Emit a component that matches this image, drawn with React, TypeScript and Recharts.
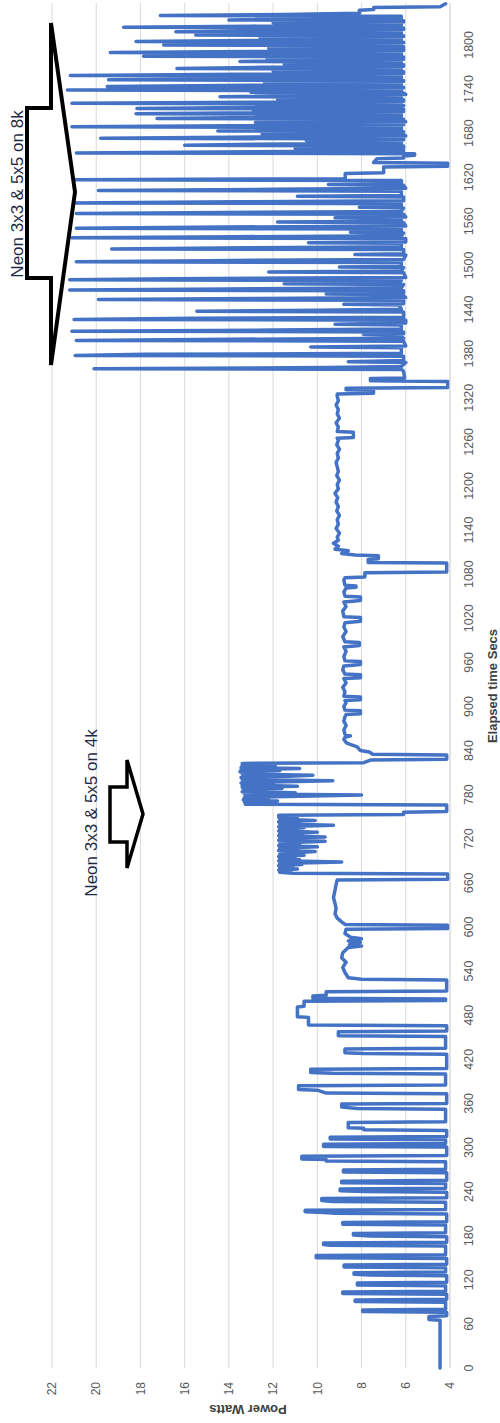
import React from 'react';
import { LineChart, Line, XAxis, YAxis, CartesianGrid } from 'recharts';

const timeTicks = [0, 60, 120, 180, 240, 300, 360, 420, 480, 540, 600, 660, 720, 780, 840, 900, 960, 1020, 1080, 1140, 1200, 1260, 1320, 1380, 1440, 1500, 1560, 1620, 1680, 1740, 1800];
const wattTicks = [4, 6, 8, 10, 12, 14, 16, 18, 20, 22];

const idleStart: [number, number][] = [
  [0, 4.45], [65, 4.45], [66, 4.95], [70, 4.95], [71, 4.15],
];

const burstsEarly: [number, number][] = [
  [76, 4.15], [77, 7.95], [79, 7.95], [80, 4.2],
  [89.5, 4.2], [90.5, 8.29], [92.5, 8.29], [93.5, 4.15],
  [100.5, 4.15], [101.5, 8.85], [103.5, 8.85], [104.5, 4.2],
  [112, 4.2], [113, 8.19], [115.5, 8.19], [116.5, 4.15],
  [125.5, 4.15], [126.5, 7.6], [127.5, 8.34], [129.5, 8.34], [130.5, 4.2],
  [136.5, 4.2], [137.5, 8.79], [140, 8.79], [141, 4.15],
  [149, 4.15], [150, 10.05], [153, 10.05], [154, 4.2],
  [166, 4.2], [167, 9.4], [168, 9.72], [170, 9.72], [171, 4.15],
  [178.5, 4.15], [179.5, 7.6], [181, 8.37], [183, 8.37], [184, 4.2],
  [194.5, 4.2], [195.5, 8.85], [198, 8.85], [199, 4.15],
  [209.5, 4.15], [210.5, 9.2], [211.5, 9.7], [212.5, 10.55], [214.5, 10.55], [215.5, 4.2],
  [225.5, 4.2], [226.5, 9.3], [228, 9.8], [230.5, 9.8], [231.5, 4.15],
  [239, 4.15], [240, 7.85], [241, 8.97], [243.5, 8.97], [244.5, 4.2],
  [251, 4.2], [252, 8.9], [254, 8.9], [254.5, 7.5], [255.5, 4.15],
  [265.5, 4.15], [266.5, 8.82], [269.5, 8.82], [270.5, 4.2],
  [280.5, 4.2], [281.5, 9.6], [283.5, 9.6], [284.5, 10.7], [288, 10.7], [289, 4.15],
  [300.5, 4.15], [301.5, 9.72], [304.5, 9.72], [305.5, 4.2],
  [310.5, 4.2], [311.5, 9.42], [314, 9.42], [315, 4.15],
];

const burstsLate: [number, number][] = [
  [323, 4.15], [324, 7.9], [326, 7.9], [327, 8.6], [334, 8.6], [335, 4.2],
  [352, 4.2], [353, 8.2], [355, 8.9], [359, 8.9], [360, 4.15],
  [373, 4.15], [374, 9.6], [378, 10.0], [379, 10.85], [384, 10.85], [385, 4.2],
  [400, 4.2], [401, 9.3], [402, 10.3], [406.5, 10.3], [407.5, 4.15],
  [427, 4.15], [428, 7.9], [429, 8.75], [434, 8.75], [435, 4.2],
  [451, 4.2], [452, 9.05], [457.5, 9.05], [458.5, 4.15],
  [465.5, 4.15], [466.5, 10.4], [477, 10.4], [478, 10.9], [491, 10.9], [492, 10.6], [499, 10.6], [500, 4.2],
  [502, 4.2], [503, 10.2], [506, 10.2], [507, 9.6], [512, 9.6], [513, 4.15], [528, 4.15],
];

const plateauA: [number, number][] = [
  [529, 8.0], [531, 8.6], [538, 8.75], [545, 8.85], [552, 8.7], [558, 8.9], [565, 8.85], [572, 8.6],
  [574, 8.0], [576, 8.55], [579, 8.05], [581, 8.6], [584, 8.0], [586, 8.5], [591, 8.75], [597, 8.7],
  [598, 4.1], [602.5, 4.1], [603.5, 8.75], [607, 8.9], [612, 9.1], [618, 9.2], [625, 9.15], [632, 9.2],
  [640, 9.27], [650, 9.2], [658, 9.15], [664, 9.1], [665, 4.1], [672, 4.1],
];

const blockLow: [number, number][] = [
  [673, 11.1], [674.5, 11.7], [676, 11.2], [677.5, 11.75], [679, 10.9], [680.5, 11.7], [682, 11.1], [683.5, 11.75],
  [685, 10.7], [686.5, 11.7], [688.5, 8.9], [690, 11.75], [691.5, 10.8], [693, 11.7], [694.5, 11.0], [696, 11.75],
  [697.5, 10.6], [699, 11.7], [700.5, 11.2], [702.5, 10.1], [704, 11.75], [705.5, 10.9], [707, 11.7], [709, 10.0],
  [710.5, 11.75], [712, 10.8], [713.5, 11.7], [715, 11.1], [716.5, 9.65], [718, 11.75], [719.5, 10.9], [721, 11.7],
  [722.5, 9.65], [724, 11.75], [725.5, 10.7], [727, 11.7], [729, 10.0], [730.5, 11.75], [732, 10.9], [733.5, 11.7],
  [735, 10.6], [736.5, 11.75], [738.5, 9.27], [740, 11.7], [741.5, 10.8], [743, 11.75], [745, 10.1], [746.5, 11.7],
  [748, 10.9], [749.5, 11.75], [751, 11.0], [752, 11.75], [753, 6.1], [756, 6.1], [757, 4.15], [766, 4.15],
];

const blockHigh: [number, number][] = [
  [767, 13.26], [768.5, 12.4], [770, 13.3], [771.5, 11.8], [773, 13.35], [774.5, 12.2], [776, 13.3], [777.5, 11.4],
  [779.5, 8.0], [781, 13.3], [782.5, 11.0], [784, 13.4], [785.5, 12.1], [787, 13.35], [788.5, 11.6], [790, 13.4],
  [791.5, 10.9], [793, 13.4], [794.5, 12.0], [796, 13.45], [797.5, 11.5], [799, 9.3], [800.5, 13.4], [802, 12.0],
  [803.5, 13.45], [805, 11.3], [806.5, 10.2], [808, 13.4], [809.5, 12.3], [811, 13.5], [812.5, 11.7], [814, 13.45],
  [815.5, 10.8], [817, 13.45], [818.5, 11.9], [820, 13.4], [821.5, 12.4], [822.5, 13.4], [823.5, 7.9], [827, 7.6],
  [828, 4.15], [834, 4.15], [835, 7.5], [838, 7.65], [840, 8.05], [845, 8.2],
];

const plateauB: [number, number][] = [
  [850, 8.67], [855, 8.8], [858, 8.75], [860, 8.5], [862, 8.75], [868, 8.8], [874, 8.7], [880, 8.8], [886, 8.75],
  [889, 8.7], [890, 8.05], [894, 8.05], [895, 8.75], [900, 8.8], [905, 8.7], [908, 8.75], [909, 8.05], [913, 8.05],
  [914, 8.8], [920, 8.75], [926, 8.85], [932, 8.7], [938, 8.8], [939, 8.05], [943, 8.05], [944, 8.75], [950, 8.85],
  [955, 8.8], [957, 8.05], [961, 8.05], [962, 8.75], [968, 8.8], [975, 8.7], [981, 8.8], [983, 8.1], [987, 8.1],
  [988, 8.75], [995, 8.85], [1002, 8.7], [1008, 8.8], [1014, 8.75], [1016, 8.05], [1021, 8.05], [1022, 8.8],
  [1030, 8.85], [1036, 8.7], [1042, 8.8], [1044, 8.05], [1049, 8.05], [1050, 8.75], [1056, 8.8], [1061, 8.7],
  [1062, 8.25], [1064, 8.25], [1065, 8.75], [1072, 8.8], [1075, 8.75], [1076, 7.85], [1082, 7.85], [1083, 4.15],
  [1095, 4.15], [1096, 7.7], [1100, 7.7], [1101, 7.24], [1105, 7.24], [1106, 8.3], [1108, 8.9], [1112, 8.6],
  [1114, 9.2], [1118, 9.05], [1122, 9.27], [1126, 9.05],
];

const plateauC: [number, number][] = [
  [1130, 9.1], [1136, 9.0], [1142, 9.15], [1148, 9.05], [1154, 9.1], [1160, 9.0], [1166, 9.12], [1172, 9.05],
  [1178, 9.15], [1184, 9.08], [1190, 9.2], [1196, 9.05], [1202, 9.1], [1208, 9.0], [1214, 9.12], [1220, 9.05],
  [1226, 9.1], [1232, 9.15], [1238, 9.05], [1244, 9.1], [1250, 9.0], [1256, 9.12], [1262, 9.05], [1265, 9.1],
  [1266, 8.37], [1273, 8.37], [1274, 9.1], [1280, 9.05], [1286, 9.15], [1292, 9.0], [1298, 9.1], [1304, 9.05],
  [1310, 9.15], [1316, 9.05], [1322, 9.1], [1325, 9.1], [1326, 7.46], [1330, 7.46], [1331, 8.7], [1333, 8.7],
  [1334, 4.1], [1342, 4.1], [1343, 7.6], [1346, 7.6], [1347, 6.05],
];

const dense8kA: [number, number][] = [
  [1356, 6.1], [1358.5, 6.2], [1359.5, 20.1], [1361, 9.5], [1362.5, 6.2],
  [1368, 6.0], [1369, 8.6], [1370.5, 6.1],
  [1376.5, 6.1], [1377.5, 20.95], [1379, 17.8], [1380.5, 6.2],
  [1388, 6.2], [1389, 10.3], [1390.5, 6.0],
  [1397, 6.1], [1398, 20.9], [1399.5, 14.0], [1401, 6.1],
  [1405, 6.3], [1406, 7.9], [1407, 6.1],
  [1409.5, 6.1], [1410.5, 21.1], [1412, 12.0], [1413.5, 6.2],
  [1419, 6.2], [1420, 9.2], [1421.5, 6.0],
  [1425.5, 6.0], [1426.5, 21.0], [1428, 15.5], [1429.5, 6.1],
  [1436.5, 6.1], [1437.5, 15.45], [1439, 10.0], [1440.5, 6.2],
  [1446, 6.3], [1447, 8.8], [1448, 6.1],
  [1452.5, 6.1], [1453.5, 19.9], [1455, 12.5], [1456.5, 6.0],
  [1460, 6.2], [1461, 9.6], [1462, 6.1],
  [1465.5, 6.1], [1466.5, 21.2], [1468, 14.0], [1469.5, 6.2],
  [1474, 6.1], [1475, 11.5], [1476, 6.3],
  [1479.5, 6.2], [1480.5, 21.2], [1482, 16.5], [1483.5, 6.0],
  [1490, 6.1], [1491, 12.2], [1492.5, 6.2],
  [1497, 6.1], [1498, 9.0], [1499, 6.2],
  [1504, 6.2], [1505, 20.9], [1506.5, 15.0], [1508, 6.1],
  [1514, 6.0], [1515, 8.3], [1516, 6.1],
  [1521.5, 6.1], [1522.5, 19.3], [1524, 13.2], [1525.5, 6.2],
  [1530, 6.2], [1531, 10.4], [1532, 6.0],
  [1536.5, 6.0], [1537.5, 21.1], [1539, 13.7], [1540.5, 6.2],
  [1544, 6.1], [1545, 8.5], [1546, 6.2],
  [1549.5, 6.2], [1550.5, 20.9], [1552, 15.6], [1553.5, 6.0],
  [1558, 6.1], [1559, 11.8], [1560, 6.2], [1564, 6.2], [1565, 9.2], [1566, 6.0],
  [1569.5, 6.1], [1570.5, 20.9], [1572, 14.3], [1573.5, 6.2],
  [1578, 6.1], [1579, 8.1], [1580, 6.2],
  [1584, 6.2], [1585, 21.2], [1586.5, 13.6], [1588, 6.1],
  [1593, 6.1], [1594, 10.9], [1595, 6.2],
  [1601, 6.2], [1602, 19.9], [1603.5, 12.0], [1605, 6.0],
  [1609, 6.1], [1610, 9.5], [1611, 6.2],
  [1615.5, 6.2], [1616.5, 21.0], [1618, 8.74], [1625, 8.74], [1626, 7.0], [1634, 7.0],
  [1635, 4.1], [1639, 4.1], [1640, 7.46], [1645, 7.3], [1646, 6.1], [1649, 6.1], [1650, 5.6], [1652, 5.6],
  [1653, 20.9], [1654.5, 13.0],
];

const dense8kB: [number, number][] = [
  [1656, 6.1], [1658, 6.2], [1659, 11.0], [1660, 6.1],
  [1662.5, 6.1], [1663.5, 16.0], [1665, 12.8], [1666.5, 6.2],
  [1669, 6.2], [1670, 10.5], [1671, 6.1],
  [1672, 6.1], [1673, 19.8], [1674.5, 14.0], [1676, 6.0],
  [1678, 6.1], [1679, 12.5], [1680, 6.2],
  [1682, 6.1], [1683, 14.5], [1684.5, 6.2],
  [1687.5, 6.2], [1688.5, 21.1], [1690, 13.8], [1691.5, 6.1],
  [1693.5, 6.2], [1694.5, 12.8], [1695.5, 6.0],
  [1697, 6.1], [1698, 11.2], [1698.5, 6.2],
  [1699, 6.1], [1700, 17.25], [1701.5, 11.5], [1703, 6.2],
  [1705.5, 6.2], [1706.5, 18.2], [1708, 12.0], [1709.5, 6.1],
  [1710.5, 6.2], [1711.5, 12.9], [1712, 6.1],
  [1712.5, 6.1], [1713.5, 18.16], [1715, 13.2], [1716.5, 6.2],
  [1717.5, 6.1], [1718.5, 11.4], [1719, 6.2],
  [1719.5, 6.2], [1720.5, 21.1], [1722, 12.6], [1723.5, 6.1],
  [1725.5, 6.1], [1726.5, 11.8], [1727.5, 6.2],
  [1728.5, 6.2], [1729.5, 14.4], [1731, 10.8], [1732.5, 6.0],
  [1734.5, 6.1], [1735.5, 13.0], [1736.5, 6.2],
  [1737.5, 6.2], [1738.5, 21.3], [1740, 14.2], [1741.5, 6.1],
  [1742.5, 6.1], [1743.5, 19.5], [1745, 13.0], [1746.5, 6.2],
  [1748.5, 6.2], [1749.5, 12.4], [1750.5, 6.1],
  [1751.5, 6.1], [1752.5, 19.44], [1754, 12.8], [1755.5, 6.2],
  [1757.5, 6.2], [1758.5, 21.17], [1760, 13.5], [1761.5, 6.1],
  [1763.5, 6.1], [1764.5, 12.0], [1765.5, 6.2],
  [1767, 6.2], [1768, 16.35], [1769.5, 12.5], [1771, 6.1],
  [1773, 6.1], [1774, 11.5], [1775, 6.2],
  [1776.5, 6.2], [1777.5, 13.5], [1779, 10.5], [1780.5, 6.1],
  [1781.5, 6.2], [1782.5, 12.3], [1783, 6.1],
  [1783.5, 6.1], [1784.5, 17.86], [1785.5, 12.5], [1787, 6.2],
  [1788.5, 6.2], [1789.5, 19.36], [1791, 13.0], [1792.5, 6.1],
  [1794.5, 6.1], [1795.5, 12.2], [1796.5, 6.2],
  [1797.5, 6.1], [1798, 11.0], [1798.5, 6.2],
  [1799, 6.2], [1800, 16.95], [1801.5, 12.0], [1803, 6.1],
  [1803.5, 6.1], [1804.5, 18.2], [1806, 13.3], [1807.5, 6.2],
  [1809.5, 6.2], [1810.5, 12.6], [1811.5, 6.1],
  [1812.5, 6.1], [1813.5, 15.5], [1815, 11.5], [1816, 6.2],
  [1817, 6.2], [1818, 16.4], [1819.5, 12.4], [1821, 6.1],
  [1823, 6.1], [1824, 18.76], [1825.5, 13.0], [1827, 6.2],
  [1829, 6.2], [1830, 12.0], [1831, 6.1],
  [1833, 6.1], [1834, 14.0], [1835.5, 11.0], [1837, 6.2],
  [1839, 6.2], [1840, 17.1], [1841.5, 11.5], [1843, 8.1], [1847, 8.1], [1848, 7.45], [1851, 7.45],
  [1852, 4.45], [1856, 4.2],
];

const data = [
  ...idleStart, ...burstsEarly, ...burstsLate, ...plateauA, ...blockLow, ...blockHigh,
  ...plateauB, ...plateauC, ...dense8kA, ...dense8kB,
].map(([t, w]) => ({ t, w }));

const W = 1423;
const H = 500;
const FONT = '"Liberation Sans", Arial, sans-serif';

export default function App() {
  return (
    <div style={{ position: 'absolute', left: 0, top: 0, width: 500, height: 1423, overflow: 'hidden', background: '#fff' }}>
      <div style={{ position: 'absolute', left: 0, top: 1423, width: W, height: H, transform: 'rotate(-90deg)', transformOrigin: '0 0' }}>
        <LineChart width={W} height={H} data={data} margin={{ top: 52, right: 3, bottom: 0, left: 0 }}>
          <CartesianGrid vertical={false} stroke="#D9D9D9" strokeWidth={1} />
          <XAxis
            dataKey="t"
            type="number"
            domain={[0, 1857]}
            ticks={timeTicks}
            height={50}
            tickSize={0}
            tickMargin={14}
            axisLine={{ stroke: '#D9D9D9' }}
            tick={{ fill: '#595959', fontSize: 12.5, fontFamily: FONT }}
            interval={0}
          />
          <YAxis
            type="number"
            domain={[4, 22]}
            ticks={wattTicks}
            width={55}
            tickSize={0}
            tickMargin={14}
            axisLine={false}
            tick={{ fill: '#595959', fontSize: 12, fontFamily: FONT }}
            interval={0}
          />
          <Line
            dataKey="w"
            type="linear"
            stroke="#4472C4"
            strokeWidth={3.5}
            strokeLinejoin="round"
            strokeLinecap="round"
            dot={false}
            activeDot={false}
            isAnimationActive={false}
          />
        </LineChart>
        <svg style={{ position: 'absolute', left: 0, top: 0, pointerEvents: 'none' }} width={W} height={H}>
          <polygon
            points="1145,27 1315,27 1315,51 1400,51 1231,75 1058,51 1145,51"
            fill="#fff"
            stroke="#000"
            strokeWidth={4}
          />
          <polygon
            points="581,110 636,110 636,127 663,127 609,143 555,127 581,127"
            fill="#fff"
            stroke="#000"
            strokeWidth={3.5}
          />
          <text x={1229} y={23} textAnchor="middle" fontSize={17} fontFamily={FONT} fill="#1f2a44">
            Neon 3x3 &amp; 5x5 on 8k
          </text>
          <text x={610} y={97} textAnchor="middle" fontSize={17} fontFamily={FONT} fill="#1f2a44">
            Neon 3x3 &amp; 5x5 on 4k
          </text>
          <text x={737} y={497} textAnchor="middle" fontSize={13} fontWeight="bold" fontFamily={FONT} fill="#404040">
            Elapsed time Secs
          </text>
          <text transform="translate(18,248) rotate(-90)" textAnchor="middle" fontSize={13} fontWeight="bold" fontFamily={FONT} fill="#404040">
            Power Watts
          </text>
        </svg>
      </div>
    </div>
  );
}
